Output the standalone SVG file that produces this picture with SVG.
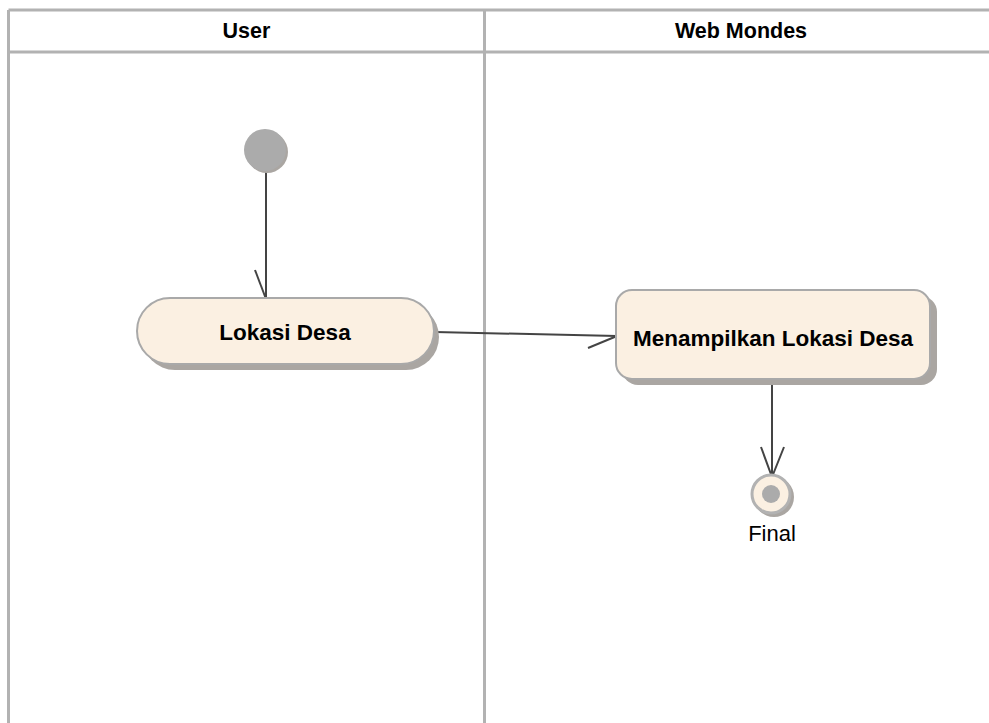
<svg xmlns="http://www.w3.org/2000/svg" width="989" height="723" viewBox="0 0 989 723">
<style>
.lane{stroke:#b2b2b2;stroke-width:3;fill:none}
.hdr{font-family:"Liberation Sans",Arial,sans-serif;font-weight:bold;font-size:21.5px;fill:#000;text-anchor:middle}
.lbl{font-family:"Liberation Sans",Arial,sans-serif;font-weight:bold;font-size:22.5px;fill:#000;text-anchor:middle}
.fin{font-family:"Liberation Sans",Arial,sans-serif;font-size:22px;fill:#000;text-anchor:middle}
.act{fill:#fbf0e2;stroke:#a9a9a9;stroke-width:2}
.shadow{fill:#aaa6a2}
.edge{stroke:#444;stroke-width:2;fill:none}
</style>
<rect width="989" height="723" fill="#fff"/>
<g id="swimlanes">
<line class="lane" x1="8.5" y1="10" x2="989" y2="10"/>
<line class="lane" x1="8.5" y1="52" x2="989" y2="52"/>
<line class="lane" x1="8.5" y1="10" x2="8.5" y2="723"/>
<line class="lane" x1="484.5" y1="10" x2="484.5" y2="723"/>
<text class="hdr" x="246.5" y="38">User</text>
<text class="hdr" x="741" y="38">Web Mondes</text>
</g>
<g id="connectors">
<line class="edge" x1="266" y1="172" x2="266" y2="299"/>
<line class="edge" x1="255" y1="270" x2="266" y2="299"/>
<line class="edge" x1="435" y1="332" x2="617" y2="336"/>
<line class="edge" x1="588" y1="348" x2="617" y2="336"/>
<line class="edge" x1="772" y1="383" x2="772" y2="477"/>
<polyline class="edge" points="761,447 772,477 784,447"/>
</g>
<g id="initial">
<circle class="shadow" cx="267" cy="152" r="21"/>
<circle cx="265" cy="150" r="21" fill="#ababab"/>
</g>
<g id="lokasi-desa">
<rect class="shadow" x="142" y="304" width="297" height="66" rx="33"/>
<rect class="act" x="137" y="298" width="297" height="66" rx="33"/>
<text class="lbl" x="285" y="340">Lokasi Desa</text>
</g>
<g id="menampilkan-lokasi-desa">
<rect class="shadow" x="622" y="296" width="315" height="89" rx="16"/>
<rect class="act" x="616" y="290" width="314" height="89" rx="16"/>
<text class="lbl" x="773" y="346">Menampilkan Lokasi Desa</text>
</g>
<g id="final">
<circle class="shadow" cx="774" cy="497" r="20"/>
<circle cx="771" cy="494" r="19" fill="#fbf0e2" stroke="#b2b2b2" stroke-width="3"/>
<circle cx="771" cy="494" r="9" fill="#ababab"/>
<text class="fin" x="772" y="541">Final</text>
</g>
</svg>
